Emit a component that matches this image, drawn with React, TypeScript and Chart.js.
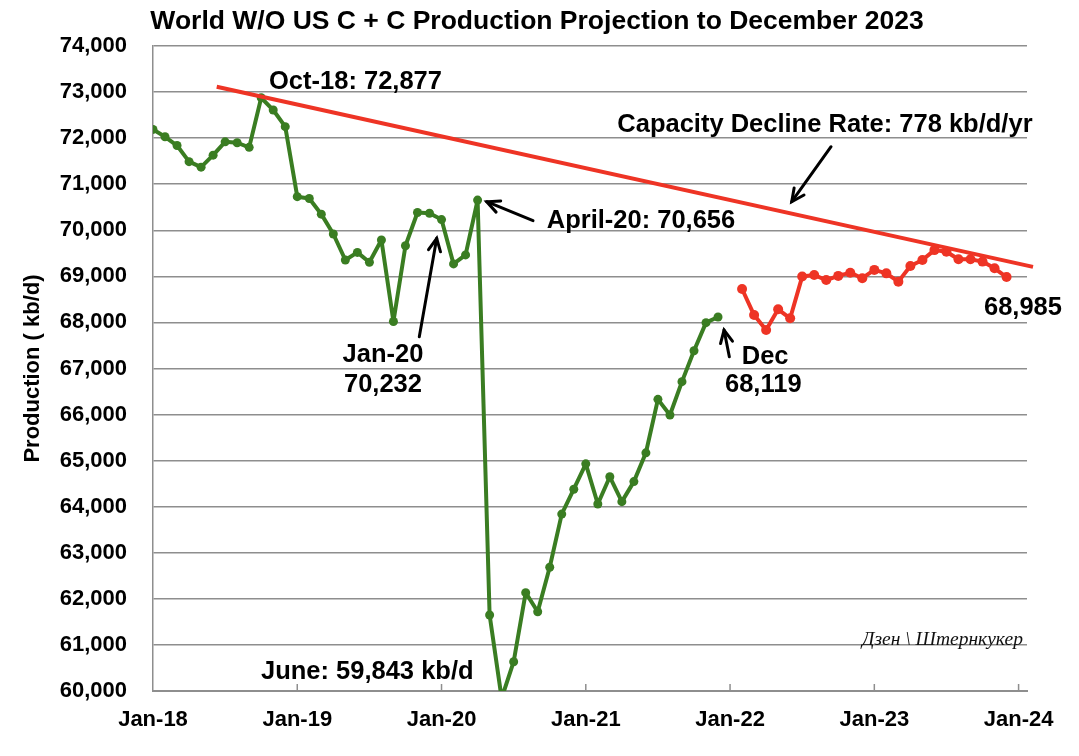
import React, { useEffect, useRef } from "react";
import { Chart, registerables } from "chart.js";

Chart.register(...registerables);

// ---------- data ----------
const xTickLabels = ["Jan-18", "Jan-19", "Jan-20", "Jan-21", "Jan-22", "Jan-23", "Jan-24"];

// Monthly actual production, starting Jan-18 (month index 0)
const actualStartMonth = 0;
const actualValues = [
  72190, 72030, 71840, 71490, 71370, 71630, 71920, 71900, 71800, 72877, 72610, 72250,
  70730, 70690, 70350, 69920, 69355, 69520, 69305, 69790, 68020, 69665, 70385, 70370,
  70232, 69270, 69465, 70656, 61650, 59843, 60635, 62135, 61720, 62685, 63840, 64380,
  64930, 64060, 64650, 64110, 64545, 65170, 66330, 65990, 66715, 67385, 67995, 68119,
];

// Projection, starting Feb-22 (month index 49)
const projectionStartMonth = 49;
const projectionValues = [
  68725, 68160, 67835, 68285, 68090, 68995, 69030, 68920, 69010, 69080, 68960,
  69140, 69065, 68885, 69225, 69355, 69570, 69535, 69370, 69370, 69320, 69175, 68985,
];

// Capacity decline trend line (month index, kb/d)
const capacityMonths = [5.3, 73.2];
const capacityValues = [73117, 69205];

const yMin = 60000;
const yMax = 74000;
const yStep = 1000;
const xMaxMonth = 72.7;

const titleText = "World W/O US C + C Production Projection to December 2023";
const yAxisTitle = "Production ( kb/d)";

// Text annotations anchored in data units (month index, kb/d at text baseline)
const labelTexts = [
  "Oct-18: 72,877",
  "Capacity Decline Rate: 778 kb/d/yr",
  "April-20: 70,656",
  "Jan-20",
  "70,232",
  "Dec",
  "68,119",
  "68,985",
  "June: 59,843 kb/d",
];
const labelMonths = [9.65, 38.62, 32.75, 19.13, 19.13, 48.97, 47.58, 69.12, 8.98];
const labelValues = [73067, 72133, 70043, 67147, 66496, 67098, 66496, 68161, 60254];
const labelAligns = ["left", "left", "left", "center", "center", "left", "left", "left", "left"];

// Arrows: tail -> head in data units
const arrowFromMonths = [22.15, 31.61, 47.94, 56.4];
const arrowFromValues = [67690, 70208, 67256, 71814];
const arrowToMonths = [23.6, 27.76, 47.5, 53.13];
const arrowToValues = [69826, 70620, 67835, 70620];

const watermarkText = "Дзен \\ Штернкукер";
const watermarkMonth = 58.98;
const watermarkValue = 61000;

// ---------- styles ----------
const GREEN = "#3a7d22";
const RED = "#ee3425";
const GRID = "#8e8e8e";
const SANS = "'Liberation Sans', Arial, Helvetica, sans-serif";

function drawArrow(ctx: CanvasRenderingContext2D, x1: number, y1: number, x2: number, y2: number) {
  ctx.beginPath();
  ctx.moveTo(x1, y1);
  ctx.lineTo(x2, y2);
  ctx.stroke();
  const ang = Math.atan2(y2 - y1, x2 - x1);
  const L = 14;
  const a = Math.PI / 7;
  ctx.beginPath();
  ctx.moveTo(x2 - L * Math.cos(ang - a), y2 - L * Math.sin(ang - a));
  ctx.lineTo(x2, y2);
  ctx.lineTo(x2 - L * Math.cos(ang + a), y2 - L * Math.sin(ang + a));
  ctx.stroke();
}

const overlayPlugin = {
  id: "overlay",
  afterDraw(chart: any) {
    const { ctx, chartArea, scales } = chart;
    const xs = scales.x;
    const ys = scales.y;
    ctx.save();

    // inner tick marks on x axis
    ctx.strokeStyle = GRID;
    ctx.lineWidth = 1.5;
    for (let m = 12; m <= 72; m += 12) {
      const px = xs.getPixelForValue(m);
      ctx.beginPath();
      ctx.moveTo(px, chartArea.bottom);
      ctx.lineTo(px, chartArea.bottom - 7);
      ctx.stroke();
    }

    // title
    ctx.fillStyle = "#000";
    ctx.font = `bold 26.5px ${SANS}`;
    ctx.textAlign = "center";
    ctx.textBaseline = "alphabetic";
    ctx.fillText(titleText, 537, 29);

    // y axis title
    ctx.save();
    ctx.translate(33, (chartArea.top + chartArea.bottom) / 2);
    ctx.rotate(-Math.PI / 2);
    ctx.font = `bold 22px ${SANS}`;
    ctx.textAlign = "center";
    ctx.textBaseline = "middle";
    ctx.fillText(yAxisTitle, 0, 0);
    ctx.restore();

    // annotations
    ctx.font = `bold 25.5px ${SANS}`;
    ctx.textBaseline = "alphabetic";
    for (let i = 0; i < labelTexts.length; i++) {
      ctx.textAlign = labelAligns[i] as CanvasTextAlign;
      ctx.fillText(labelTexts[i], xs.getPixelForValue(labelMonths[i]), ys.getPixelForValue(labelValues[i]));
    }

    // arrows
    ctx.strokeStyle = "#000";
    ctx.lineWidth = 3;
    ctx.lineCap = "round";
    ctx.lineJoin = "miter";
    for (let i = 0; i < arrowFromMonths.length; i++) {
      drawArrow(
        ctx,
        xs.getPixelForValue(arrowFromMonths[i]),
        ys.getPixelForValue(arrowFromValues[i]),
        xs.getPixelForValue(arrowToMonths[i]),
        ys.getPixelForValue(arrowToValues[i])
      );
    }

    // watermark
    ctx.font = `italic 19.5px 'Liberation Serif', 'DejaVu Serif', serif`;
    ctx.textAlign = "left";
    ctx.fillStyle = "#111";
    ctx.fillText(watermarkText, xs.getPixelForValue(watermarkMonth), ys.getPixelForValue(watermarkValue));

    ctx.restore();
  },
};

export default function App() {
  const canvasRef = useRef<HTMLCanvasElement | null>(null);

  useEffect(() => {
    if (!canvasRef.current) return;
    const actualData = actualValues.map((v, i) => ({ x: actualStartMonth + i, y: v }));
    const projectionData = projectionValues.map((v, i) => ({ x: projectionStartMonth + i, y: v }));
    const capacityData = capacityMonths.map((m, i) => ({ x: m, y: capacityValues[i] }));

    const chart = new Chart(canvasRef.current, {
      type: "line",
      data: {
        datasets: [
          {
            label: "Capacity",
            data: capacityData,
            borderColor: RED,
            borderWidth: 4,
            pointRadius: 0,
            borderCapStyle: "butt",
            clip: false as any,
          },
          {
            label: "Actual",
            data: actualData,
            borderColor: GREEN,
            backgroundColor: GREEN,
            borderWidth: 4,
            borderJoinStyle: "round",
            pointRadius: 4.5,
            pointBorderWidth: 0,
            pointBackgroundColor: GREEN,
          },
          {
            label: "Projection",
            data: projectionData,
            borderColor: RED,
            backgroundColor: RED,
            borderWidth: 4,
            borderJoinStyle: "round",
            pointRadius: 5,
            pointBorderWidth: 0,
            pointBackgroundColor: RED,
          },
        ],
      },
      options: {
        responsive: false,
        animation: false,
        events: [],
        layout: { padding: { left: 0, right: 52, top: 46, bottom: 0 } },
        plugins: {
          legend: { display: false },
          tooltip: { enabled: false },
          title: { display: false },
        },
        scales: {
          x: {
            type: "linear",
            min: 0,
            max: xMaxMonth,
            afterBuildTicks: (scale: any) => {
              scale.ticks = xTickLabels.map((_, i) => ({ value: i * 12 }));
            },
            afterFit: (scale: any) => {
              scale.height = 65;
            },
            ticks: {
              autoSkip: false,
              maxRotation: 0,
              padding: 16,
              color: "#000",
              font: { family: SANS, size: 22, weight: "bold" },
              callback: (value: any) => xTickLabels[Math.round(Number(value) / 12)] ?? "",
            },
            grid: { display: true, drawOnChartArea: false, drawTicks: false },
            border: { display: true, color: GRID, width: 2 },
          },
          y: {
            type: "linear",
            min: yMin,
            max: yMax,
            afterFit: (scale: any) => {
              scale.width = 153;
            },
            ticks: {
              stepSize: yStep,
              padding: 26,
              color: "#000",
              font: { family: SANS, size: 22, weight: "bold" },
              callback: (value: any) => Number(value).toLocaleString("en-US"),
            },
            grid: { color: GRID, lineWidth: 1.5, drawTicks: false },
            border: { display: true, color: GRID, width: 1.5 },
          },
        },
      },
      plugins: [overlayPlugin],
    });
    return () => chart.destroy();
  }, []);

  return (
    <div style={{ position: "absolute", left: 0, top: 0, width: 1079, height: 756, background: "#fff" }}>
      <canvas ref={canvasRef} width={1079} height={756} />
    </div>
  );
}
